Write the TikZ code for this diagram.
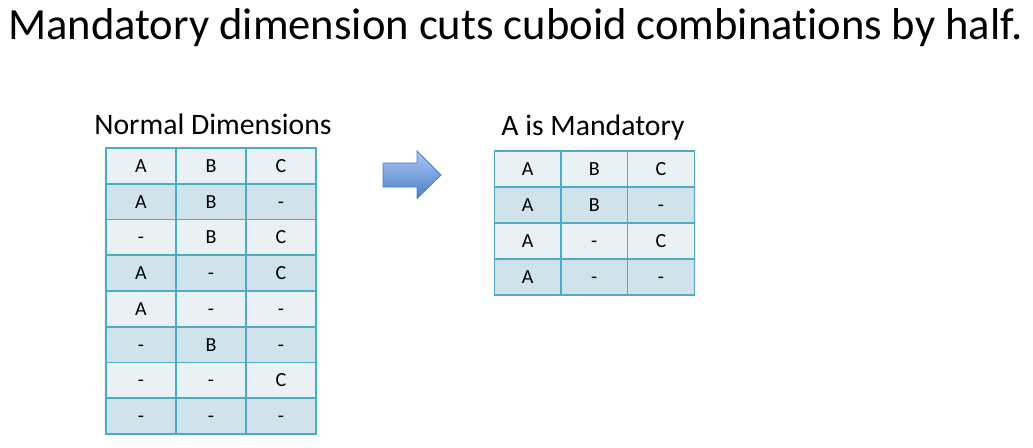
\documentclass[tikz,border=0pt]{standalone}
\usepackage{fontspec}
\setmainfont{Carlito}[Ligatures=NoCommon]
\usetikzlibrary{calc}

\definecolor{cellLight}{RGB}{233,241,245}
\definecolor{cellDark}{RGB}{208,227,234}
\definecolor{cellLine}{RGB}{75,172,198}
\definecolor{arrowTop}{RGB}{170,200,245}
\definecolor{arrowBot}{RGB}{76,126,196}
\definecolor{arrowLine}{RGB}{80,124,190}

\tikzset{
  cell/.style={draw=cellLine, line width=1.5pt, minimum width=70pt,
    minimum height=35.7pt, inner sep=0pt, text height=13pt, text depth=0pt,
    font=\fontsize{20}{22}\selectfont},
  header/.style={font=\fontsize{29.7}{34}\selectfont, inner sep=0pt},
}

\begin{document}
\begin{tikzpicture}[x=1pt, y=-1pt]
      \useasboundingbox (0, 0) rectangle (1033, 447);

      % title
      \node[font=\fontsize{44.6}{50}\selectfont, anchor=base west, inner sep=0pt] (title) at (8, 39)
        {Mandatory dimension cuts cuboid combinations by half.};

      % left table
      \node[header, anchor=base] (normalHead) at (213, 134) {Normal Dimensions};
      \foreach \row/\a/\b/\c [count=\r] in {1/A/B/C, 2/A/B/-, 3/-/B/C, 4/A/-/C,
          5/A/-/-, 6/-/B/-, 7/-/-/C, 8/-/-/-} {
        \pgfmathsetmacro{\shade}{mod(\r,2)==1 ? 1 : 0}
        \ifnum\shade=1 \def\cellfill{cellLight}\else\def\cellfill{cellDark}\fi
        \node[cell, fill=\cellfill] (normal-\r-1) at (141, 148 + 35.75*\r - 17.9) {\a};
        \node[cell, fill=\cellfill] (normal-\r-2) at (211, 148 + 35.75*\r - 17.9) {\b};
        \node[cell, fill=\cellfill] (normal-\r-3) at (281, 148 + 35.75*\r - 17.9) {\c};
      }

      % arrow
      \coordinate (arrowTail) at (383, 175);
      \coordinate (arrowTip) at (441, 175);
      \shade[top color=arrowTop, bottom color=arrowBot, draw=arrowLine, line width=0.8pt]
        (arrowTail) ++(0, -12) -- ++(34, 0) -- ++(0, -12) -- (arrowTip)
        -- ++(-24, 23.5) -- ++(0, -11.5) -- ++(-34, 0) -- cycle;

      % right table
      \node[header, anchor=base] (mandHead) at (593, 135) {A is Mandatory};
      \foreach \row/\a/\b/\c [count=\r] in {1/A/B/C, 2/A/B/-, 3/A/-/C, 4/A/-/-} {
        \pgfmathsetmacro{\shade}{mod(\r,2)==1 ? 1 : 0}
        \ifnum\shade=1 \def\cellfill{cellLight}\else\def\cellfill{cellDark}\fi
        \node[cell, fill=\cellfill, minimum width=66.6pt, minimum height=36pt]
          (mand-\r-1) at (527.7, 151 + 36*\r - 18) {\a};
        \node[cell, fill=\cellfill, minimum width=66.6pt, minimum height=36pt]
          (mand-\r-2) at (594.3, 151 + 36*\r - 18) {\b};
        \node[cell, fill=\cellfill, minimum width=66.6pt, minimum height=36pt]
          (mand-\r-3) at (661, 151 + 36*\r - 18) {\c};
      }
\end{tikzpicture}
\end{document}
